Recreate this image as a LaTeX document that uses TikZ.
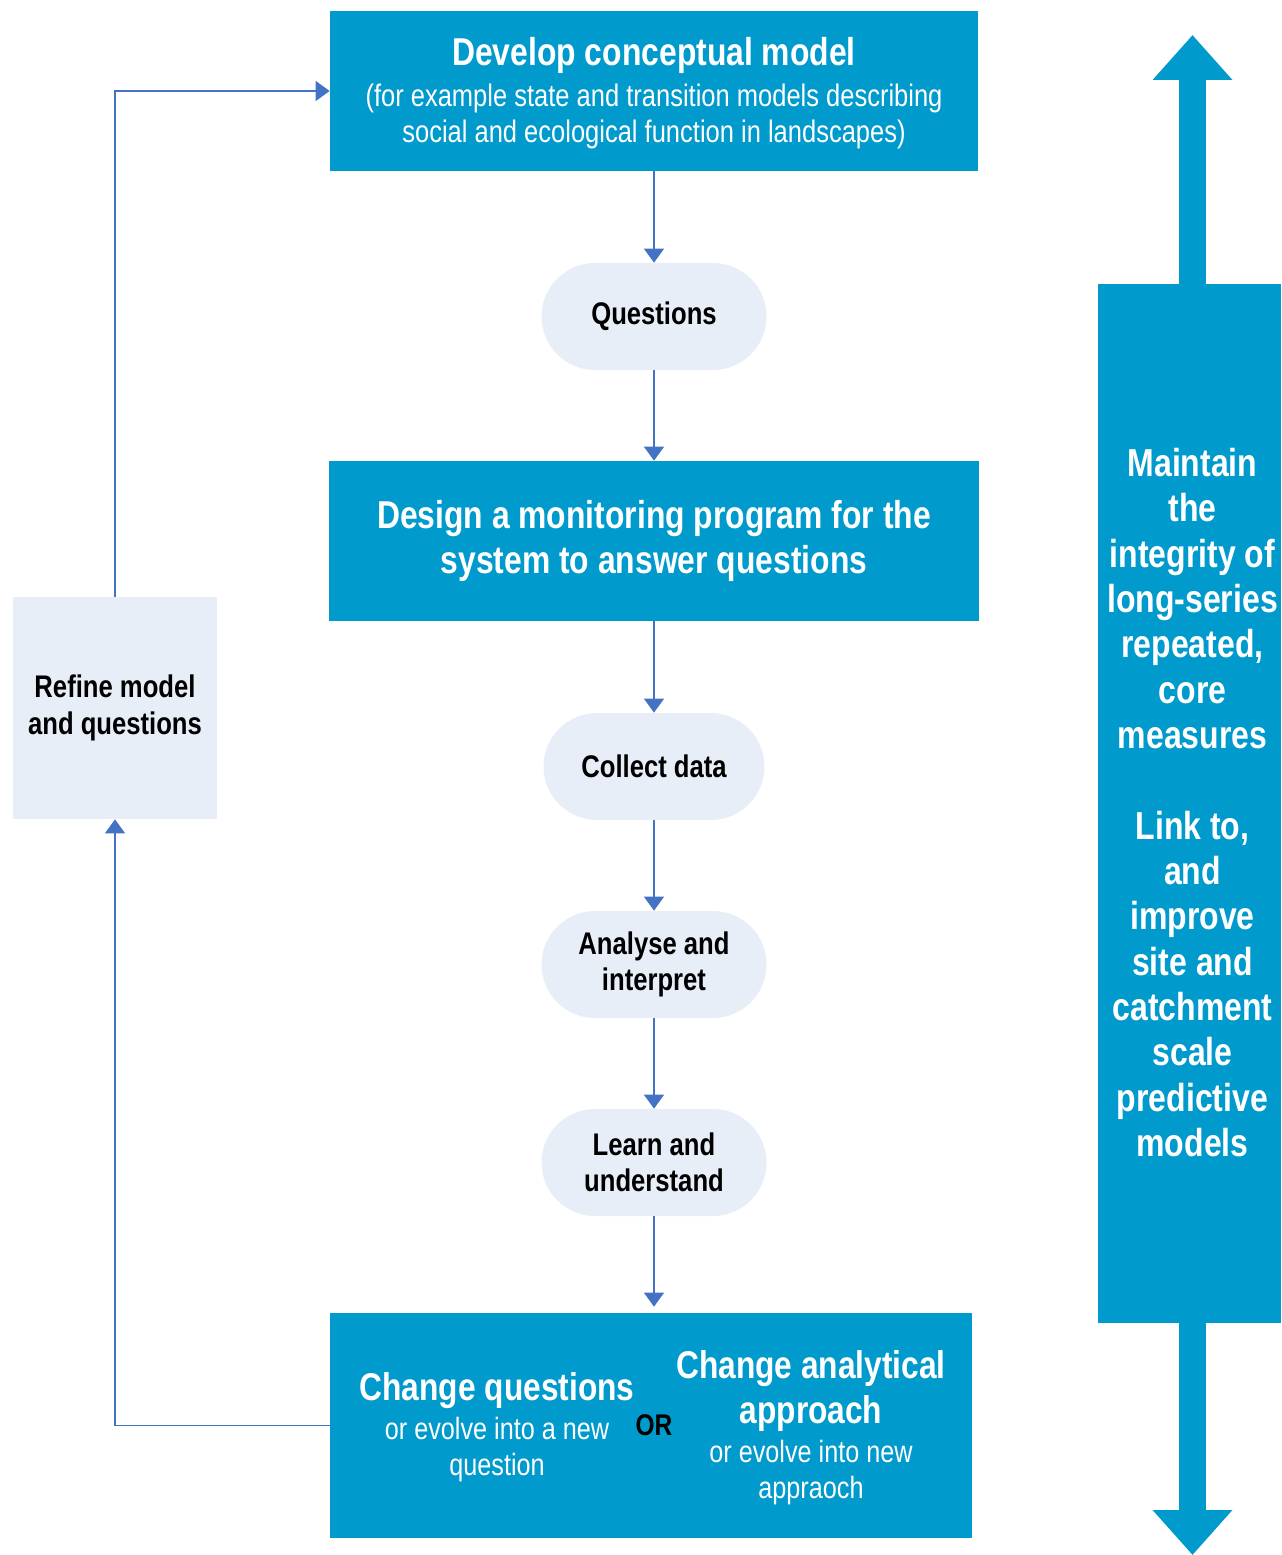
\documentclass[tikz,border=0pt]{standalone}
\usepackage{fontspec}
\setmainfont{Liberation Sans}[FakeStretch=0.82]
\usetikzlibrary{positioning,calc,arrows.meta}

\definecolor{boxblue}{RGB}{0,154,204}
\definecolor{palebox}{RGB}{232,238,248}
\definecolor{flowline}{RGB}{68,114,196}

\newcommand{\headfont}{\bfseries\fontsize{22}{26}\selectfont}

\tikzset{
	bluebox/.style={rectangle, fill=boxblue, text=white, align=center, inner sep=0pt},
	pill/.style={rectangle, rounded corners=1.07cm, fill=palebox, align=center, minimum width=4.5cm, minimum height=2.14cm, font=\bfseries\fontsize{17.8}{20.6}\selectfont},
	flow/.style={draw=flowline, line width=0.7pt, -{Triangle[width=0.4cm,length=0.28cm]}},
	bigarrow/.style={draw=boxblue, line width=0.54cm, -{Triangle[width=1.54cm,length=0.9cm]}},
}

\begin{document}
\begin{tikzpicture}
	\useasboundingbox (0,0) rectangle (25.62,-31.1);

	% main column
	\node[bluebox, minimum width=12.96cm, minimum height=3.2cm] (model) at (13.08,-1.82) {};
	\node[text=white, align=center, inner sep=0pt, font=\fontsize{17.7}{20.4}\selectfont] (modeltext) at (13.08,-1.86)
		{{\bfseries\fontsize{22.1}{25}\selectfont Develop conceptual model}\\[3pt]
		(for example state and transition models describing\\
		social and ecological function in landscapes)};
	\node[pill] (questions) at (13.08,-6.33) {Questions};
	\node[bluebox, minimum width=13cm, minimum height=3.2cm, font=\bfseries\fontsize{22.1}{25.6}\selectfont] (design) at (13.08,-10.82)
		{Design a monitoring program for the\\system to answer questions};
	\node[pill, minimum width=4.42cm] (collect) at (13.08,-15.33) {Collect data};
	\node[pill] (analyse) at (13.08,-19.29) {Analyse and\\interpret};
	\node[pill] (learn) at (13.08,-23.25) {Learn and\\understand};
	\node[bluebox, minimum width=12.84cm, minimum height=4.5cm] (change) at (13.02,-28.51) {};
	\node[text=white, align=center, font=\fontsize{17.5}{20.8}\selectfont] (changeq) at (9.94,-28.55)
		{{\headfont Change questions}\\[1pt]
		or evolve into a new\\question};
	\node[font=\bfseries\fontsize{17}{20}\selectfont] (orlabel) at (13.08,-28.5) {OR};
	\node[text=white, align=center, font=\fontsize{17.5}{20.8}\selectfont] (changea) at (16.22,-28.55)
		{{\headfont Change analytical}\\[5.2pt]{\headfont approach}\\[1pt]
		or evolve into new\\appraoch};

	% feedback
	\node[rectangle, fill=palebox, align=center, minimum width=4.08cm, minimum height=4.44cm, font=\bfseries\fontsize{17.8}{21}\selectfont] (refine) at (2.3,-14.16)
		{Refine model\\and questions};

	% side bar
	\node[bluebox, minimum width=3.66cm, minimum height=20.78cm] (bar) at (23.79,-16.07) {};
	\node[text=white, align=center, font=\bfseries\fontsize{22.2}{25.8}\selectfont] (bartext) at (23.85,-16.05)
		{Maintain\\the\\integrity of\\long-series\\repeated,\\core\\measures\\[25.8pt]
		Link to,\\and\\improve\\site and\\catchment\\scale\\predictive\\models};
	\coordinate (uptip) at (23.85,-0.7);
	\coordinate (downtip) at (23.85,-31.1);

	\draw[flow] (model) -- (questions);
	\draw[flow] (questions) -- (design);
	\draw[flow] (design) -- (collect);
	\draw[flow] (collect) -- (analyse);
	\draw[flow] (analyse) -- (learn);
	\draw[flow, shorten >=0.12cm] (learn) -- (learn |- change.north);
	\draw[flow] (change.west) -| (refine.south);
	\draw[flow] (refine.north) |- (model.west);

	\draw[bigarrow] (bar.north -| uptip) -- (uptip);
	\draw[bigarrow] (bar.south -| downtip) -- (downtip);
\end{tikzpicture}
\end{document}
